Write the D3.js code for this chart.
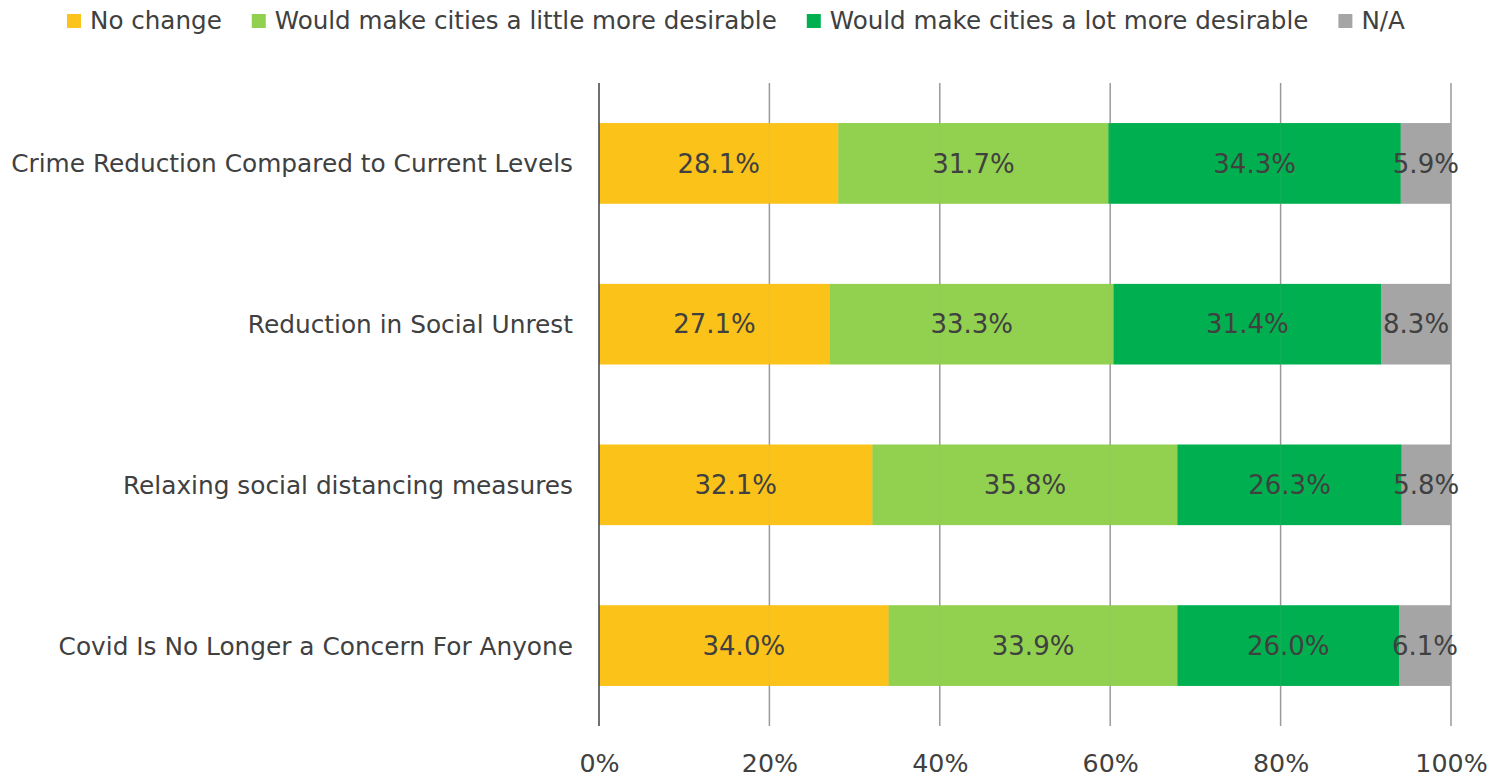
<!DOCTYPE html>
<html>
<head>
<meta charset="utf-8">
<script src="https://cdn.jsdelivr.net/npm/d3@7"></script>
<style>
  html, body { margin: 0; padding: 0; background: #fff; }
  svg { display: block; font-family: "DejaVu Sans", Verdana, sans-serif; }
</style>
</head>
<body>
<svg id="chart" width="1495" height="778"></svg>
<script>
// Survey responses: what would make cities more desirable
const categories = [
  "Crime Reduction Compared to Current Levels",
  "Reduction in Social Unrest",
  "Relaxing social distancing measures",
  "Covid Is No Longer a Concern For Anyone"
];
const seriesNames = [
  "No change",
  "Would make cities a little more desirable",
  "Would make cities a lot more desirable",
  "N/A"
];
const noChange = [28.1, 27.1, 32.1, 34.0];
const littleMore = [31.7, 33.3, 35.8, 33.9];
const lotMore = [34.3, 31.4, 26.3, 26.0];
const notApplicable = [5.9, 8.3, 5.8, 6.1];
const tickValues = [0, 20, 40, 60, 80, 100];
const colors = ["#FBC31B", "#92D050", "#00B050", "#A5A5A5"];

const seriesValues = [noChange, littleMore, lotMore, notApplicable];
const rows = categories.map((c, i) => {
  const r = { category: c };
  seriesNames.forEach((s, j) => { r[s] = seriesValues[j][i]; });
  return r;
});
const stacked = d3.stack().keys(seriesNames)(rows);

const svg = d3.select("#chart");
const plot = { left: 599, right: 1451, top: 83, bottom: 726 };
const textColor = "#404040";

const x = d3.scaleLinear().domain([0, 100]).range([plot.left, plot.right]);
const y = d3.scaleBand().domain(categories)
  .range([plot.top, plot.bottom]).paddingInner(0.5).paddingOuter(0.25);
const color = d3.scaleOrdinal().domain(seriesNames).range(colors);

function drawBars(g, opacity) {
  g.selectAll("g").data(stacked).join("g")
    .attr("fill", d => color(d.key))
    .selectAll("rect").data(d => d).join("rect")
    .attr("x", d => x(d[0]))
    .attr("y", d => y(d.data.category))
    .attr("width", d => Math.max(0, x(Math.min(d[1], 100)) - x(d[0])))
    .attr("height", y.bandwidth())
    .attr("fill-opacity", opacity);
}

// Solid bars, then gridlines, then a translucent repaint so the grid shows faintly
drawBars(svg.append("g"), 1);
svg.append("g").selectAll("line").data(tickValues.filter(t => t > 0)).join("line")
  .attr("x1", d => x(d)).attr("x2", d => x(d))
  .attr("y1", plot.top).attr("y2", plot.bottom)
  .attr("stroke", "#9a9a9a").attr("stroke-width", 1.5);
drawBars(svg.append("g"), 0.9);

// Category axis line
svg.append("line")
  .attr("x1", plot.left).attr("x2", plot.left)
  .attr("y1", plot.top).attr("y2", plot.bottom)
  .attr("stroke", "#404040").attr("stroke-width", 1.5);

// X axis tick labels
const xAxis = d3.axisBottom(x).tickValues(tickValues).tickSize(0).tickFormat(d => d + "%");
const xg = svg.append("g").attr("transform", `translate(0,${plot.bottom})`).call(xAxis);
xg.select(".domain").remove();
xg.selectAll("text")
  .attr("y", 46).attr("dy", 0)
  .attr("font-size", 25.3).attr("fill", textColor)
  .attr("font-family", "DejaVu Sans, sans-serif");

// Category labels
const yAxis = d3.axisLeft(y).tickSize(0);
const yg = svg.append("g").attr("transform", `translate(${plot.left - 26},0)`).call(yAxis);
yg.select(".domain").remove();
yg.selectAll("text")
  .attr("x", 0).attr("dy", "0.36em")
  .attr("font-size", 24.8).attr("fill", textColor)
  .attr("font-family", "DejaVu Sans, sans-serif");

// Value labels
svg.append("g").selectAll("g").data(stacked).join("g")
  .selectAll("text").data(d => d).join("text")
  .attr("x", d => (x(d[0]) + x(Math.min(d[1], 100))) / 2)
  .attr("y", d => y(d.data.category) + y.bandwidth() / 2)
  .attr("dy", "0.36em")
  .attr("text-anchor", "middle")
  .attr("font-size", 26).attr("fill", textColor)
  .attr("font-family", "DejaVu Sans, sans-serif")
  .text(d => (d[1] - d[0]).toFixed(1) + "%");

// Legend laid out left to right by measured text width
const legend = svg.append("g");
let lx = 67;
seriesNames.forEach(name => {
  const item = legend.append("g").attr("transform", `translate(${lx},0)`);
  item.append("rect")
    .attr("x", 0).attr("y", 14).attr("width", 14).attr("height", 14)
    .attr("fill", color(name));
  const t = item.append("text")
    .attr("x", 23).attr("y", 29)
    .attr("font-size", 24.6).attr("fill", textColor)
    .attr("font-family", "DejaVu Sans, sans-serif")
    .text(name);
  lx += 23 + t.node().getComputedTextLength() + 30;
});
</script>
</body>
</html>
